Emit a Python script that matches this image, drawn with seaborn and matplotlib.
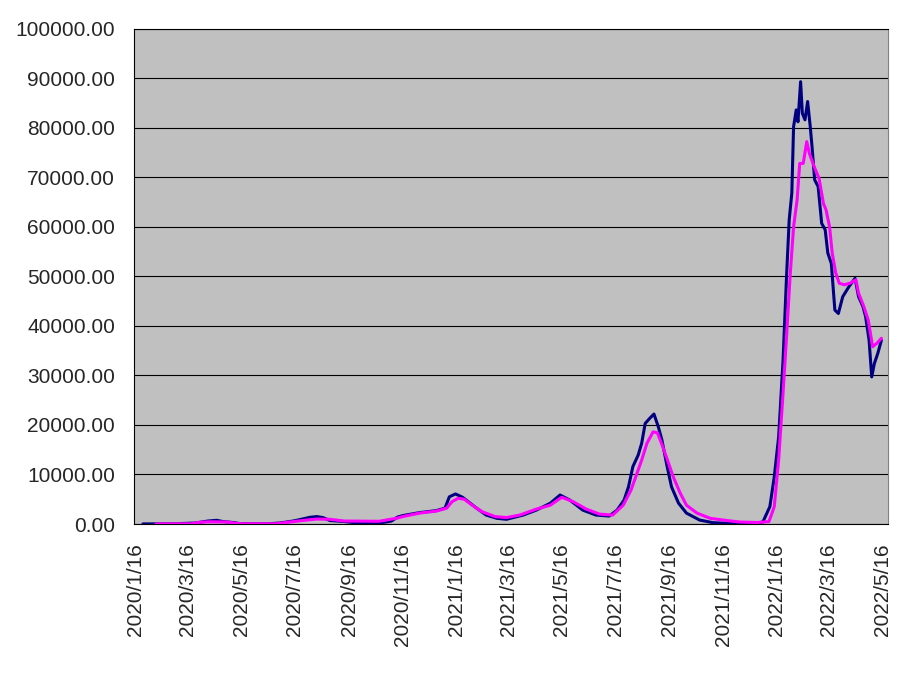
import pandas as pd
import seaborn as sns
import matplotlib.pyplot as plt
from matplotlib.ticker import FormatStrFormatter

# navy line (daily count)
daily_dates = ["2020-01-25", "2020-03-01", "2020-03-25", "2020-03-30", "2020-04-08", "2020-04-18",
               "2020-04-25", "2020-05-07", "2020-05-14", "2020-05-25", "2020-06-15", "2020-06-29",
               "2020-07-14", "2020-07-22", "2020-08-02", "2020-08-10", "2020-08-17", "2020-08-25",
               "2020-09-10", "2020-09-25", "2020-10-15", "2020-10-28", "2020-11-03", "2020-11-10",
               "2020-11-16", "2020-12-05", "2020-12-24", "2021-01-03", "2021-01-08", "2021-01-15",
               "2021-01-23", "2021-01-31", "2021-02-08", "2021-02-19", "2021-03-03", "2021-03-14",
               "2021-04-02", "2021-04-17", "2021-05-03", "2021-05-14", "2021-05-25", "2021-06-09",
               "2021-06-24", "2021-07-09", "2021-07-18", "2021-07-26", "2021-07-31", "2021-08-05",
               "2021-08-11", "2021-08-15", "2021-08-19", "2021-08-24", "2021-08-29", "2021-09-03",
               "2021-09-07", "2021-09-13", "2021-09-18", "2021-09-26", "2021-10-05", "2021-10-20",
               "2021-11-04", "2021-11-25", "2021-12-20", "2021-12-31", "2022-01-08", "2022-01-13",
               "2022-01-18", "2022-01-23", "2022-01-27", "2022-01-30", "2022-02-02", "2022-02-04",
               "2022-02-07", "2022-02-09", "2022-02-12", "2022-02-14", "2022-02-17", "2022-02-20",
               "2022-02-23", "2022-02-25", "2022-02-28", "2022-03-04", "2022-03-08", "2022-03-12",
               "2022-03-15", "2022-03-19", "2022-03-21", "2022-03-23", "2022-03-27", "2022-04-01",
               "2022-04-08", "2022-04-15", "2022-04-19", "2022-04-24", "2022-04-27", "2022-05-01",
               "2022-05-04", "2022-05-07", "2022-05-11", "2022-05-15"]
daily_vals = [20, 50, 200, 350, 600, 750,
              500, 300, 100, 50, 50, 200,
              600, 900, 1350, 1500, 1300, 700,
              500, 200, 150, 400, 600, 1400,
              1700, 2300, 2700, 3200, 5500, 6060,
              5400, 4300, 3200, 1800, 1150, 950,
              1800, 2800, 4200, 5850, 4850, 2800,
              1800, 1600, 2800, 4850, 7500, 11600,
              13900, 16300, 20300, 21300, 22200, 19600,
              17000, 11600, 7500, 4200, 2200, 800,
              270, 100, 100, 400, 3500, 9500,
              17600, 33000, 50000, 61400, 66800, 80200,
              83600, 81200, 89300, 82900, 81600, 85300,
              80200, 76200, 69500, 68100, 60700, 59400,
              54700, 52600, 47900, 43200, 42500, 45900,
              47900, 49600, 45900, 43900, 41900, 37100,
              29700, 32400, 34500, 37100]

# magenta line (smoothed average)
avg_dates = ["2020-02-09", "2020-03-20", "2020-03-30", "2020-04-10", "2020-04-30", "2020-05-12",
             "2020-05-20", "2020-06-25", "2020-07-10", "2020-07-30", "2020-08-10", "2020-08-25",
             "2020-09-10", "2020-10-20", "2020-11-10", "2020-11-16", "2020-12-05", "2020-12-24",
             "2021-01-05", "2021-01-11", "2021-01-18", "2021-01-25", "2021-02-03", "2021-02-14",
             "2021-03-01", "2021-03-14", "2021-03-29", "2021-04-17", "2021-05-03", "2021-05-16",
             "2021-05-29", "2021-06-13", "2021-06-28", "2021-07-13", "2021-07-25", "2021-08-03",
             "2021-08-09", "2021-08-15", "2021-08-21", "2021-08-28", "2021-09-02", "2021-09-08",
             "2021-09-14", "2021-09-20", "2021-09-28", "2021-10-05", "2021-10-17", "2021-11-01",
             "2021-11-20", "2021-12-05", "2021-12-25", "2022-01-07", "2022-01-13", "2022-01-18",
             "2022-01-23", "2022-01-27", "2022-01-31", "2022-02-04", "2022-02-08", "2022-02-11",
             "2022-02-15", "2022-02-19", "2022-02-22", "2022-02-28", "2022-03-05", "2022-03-10",
             "2022-03-13", "2022-03-17", "2022-03-20", "2022-03-24", "2022-03-28", "2022-04-03",
             "2022-04-09", "2022-04-16", "2022-04-19", "2022-04-25", "2022-04-30", "2022-05-05",
             "2022-05-10", "2022-05-15"]
avg_vals = [20, 50, 350, 450, 400, 100,
            50, 50, 400, 800, 1000, 950,
            600, 550, 1200, 1500, 2200, 2600,
            3200, 4500, 5200, 5000, 3800, 2500,
            1500, 1300, 1800, 3000, 3800, 5400,
            4500, 3000, 2000, 1800, 3800, 6900,
            9900, 12900, 16300, 18600, 18400, 15600,
            12600, 9500, 6200, 3800, 2200, 1150,
            700, 400, 300, 500, 3500, 12900,
            26400, 37800, 49900, 60000, 65400, 72800,
            72800, 77200, 74800, 71900, 69800, 64700,
            63400, 60000, 54700, 50700, 48600, 48300,
            48600, 49300, 46600, 43900, 41200, 35800,
            36500, 37500]

tick_dates = ["2020-01-16", "2020-03-16", "2020-05-16", "2020-07-16", "2020-09-16", "2020-11-16",
              "2021-01-16", "2021-03-16", "2021-05-16", "2021-07-16", "2021-09-16", "2021-11-16",
              "2022-01-16", "2022-03-16", "2022-05-16"]

daily = pd.DataFrame({"date": pd.to_datetime(daily_dates), "cases": daily_vals})
avg = pd.DataFrame({"date": pd.to_datetime(avg_dates), "cases": avg_vals})

sns.set_style("white")
plt.rcParams["font.family"] = ["Liberation Sans", "DejaVu Sans"]

fig = plt.figure(figsize=(9.14, 6.75), dpi=100)
ax = fig.add_axes([0.147, 0.2237, 0.825, 0.7338])
ax.set_facecolor("#C0C0C0")

sns.lineplot(data=daily, x="date", y="cases", color="#000080", lw=2.2,
             estimator=None, ax=ax, zorder=3)
sns.lineplot(data=avg, x="date", y="cases", color="#FF00FF", lw=2.2,
             estimator=None, ax=ax, zorder=4)

ax.set_ylim(0, 100000)
ax.set_yticks(range(0, 100001, 10000))
ax.yaxis.set_major_formatter(FormatStrFormatter("%.2f"))
ax.grid(axis="y", color="black", lw=0.8)
ax.grid(axis="x", visible=False)

ticks = pd.to_datetime(tick_dates)
ax.set_xlim(pd.Timestamp("2020-01-15 06:00"), pd.Timestamp("2022-05-23"))
ax.set_xticks(ticks)
ax.set_xticklabels([f"{d.year}/{d.month}/{d.day}" for d in ticks], rotation=90)

ax.tick_params(axis="x", direction="in", length=5, width=0.8, color="black",
               pad=14, labelsize=15)
ax.tick_params(axis="y", length=0, pad=14, labelsize=15)
ax.set_xlabel("")
ax.set_ylabel("")

for side in ["left", "bottom", "top"]:
    ax.spines[side].set_color("black")
    ax.spines[side].set_linewidth(0.8)
ax.spines["right"].set_color("#808080")
ax.spines["right"].set_linewidth(0.8)

fig.savefig("out.png", dpi=100)
